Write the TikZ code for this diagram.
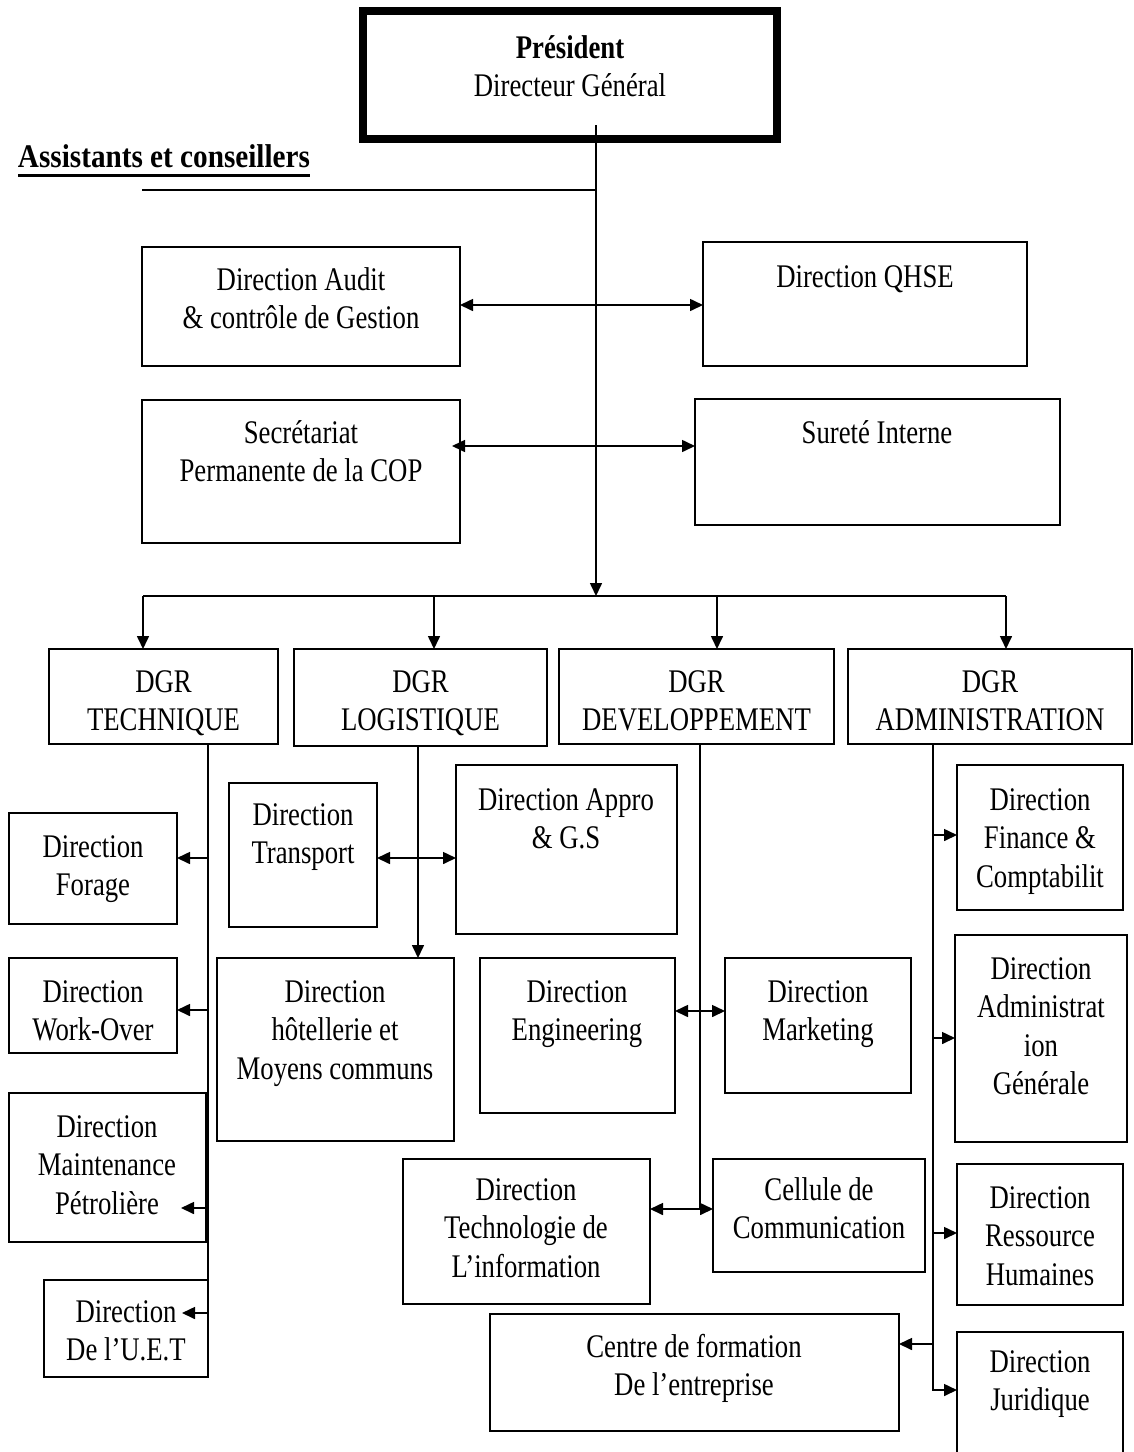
\documentclass[tikz,border=0pt]{standalone}
\usepackage{fontspec}
\setmainfont{Liberation Serif}[FakeStretch=0.81]
\newfontfamily\assistfont{Liberation Serif}[FakeStretch=0.885]
\usetikzlibrary{arrows.meta}
\tikzset{
  orgbx/.style={draw, line width=1pt, inner sep=0pt, outer sep=0pt, rectangle},
  orgtx/.style={anchor=base, inner sep=0pt, outer sep=0pt, font=\fontsize{16.5}{19.25}\selectfont},
  conn/.style={line width=0.8pt},
  tipr/.style={conn, -{Triangle[length=6.5pt,width=6pt]}},
  tipb/.style={conn, {Triangle[length=6.5pt,width=6pt]}-{Triangle[length=6.5pt,width=6pt]}},
}
\newcommand\orgbox[5]{\node[orgbx, minimum width={(#4-#2)*0.5pt}, minimum height={(#5-#3)*0.5pt}] (#1) at ({(#2+#4)/2},{(#3+#5)/2}) {};}
\newcommand\orgtext[4]{\node[orgtx] (#1) at (#2,#3) {\begin{tabular}[t]{@{}c@{}}#4\end{tabular}};}
\begin{document}
\begin{tikzpicture}[x=0.5pt,y=-0.5pt]
\fill[white] (0,0) rectangle (1134,1452);
\useasboundingbox (0,0) rectangle (1134,1452);

% President
\node[draw, line width=4pt, inner sep=0pt, minimum width={414*0.5pt}, minimum height={128*0.5pt}] (pres) at (570,75) {};
\orgtext{pres-t}{570}{58}{\bfseries Président\\Directeur Général}

% Assistants
\node[orgtx, anchor=base west] (assist) at (18,167) {\assistfont\bfseries Assistants et conseillers};
\draw[line width=1.5pt] ([yshift=-4pt]assist.base west) -- ([yshift=-4pt]assist.base east);

% boxes
\orgbox{audit}{142}{247}{460}{366}
\orgbox{qhse}{703}{242}{1027}{366}
\orgbox{secr}{142}{400}{460}{543}
\orgbox{surete}{695}{399}{1060}{525}
\orgbox{tech}{49}{649}{278}{744}
\orgbox{logi}{294}{649}{547}{746}
\orgbox{devel}{559}{649}{834}{744}
\orgbox{admin}{848}{649}{1132}{744}
\orgbox{forage}{9}{813}{177}{924}
\orgbox{wover}{9}{958}{177}{1053}
\orgbox{maint}{9}{1093}{206}{1242}
\orgbox{uet}{44}{1280}{208}{1377}
\orgbox{transp}{229}{783}{377}{927}
\orgbox{appro}{456}{765}{677}{934}
\orgbox{hotel}{217}{958}{454}{1141}
\orgbox{engin}{480}{958}{675}{1113}
\orgbox{market}{725}{958}{911}{1093}
\orgbox{techinfo}{403}{1159}{650}{1304}
\orgbox{cellule}{713}{1159}{925}{1272}
\orgbox{centre}{490}{1314}{899}{1431}
\orgbox{finance}{957}{765}{1123}{910}
\orgbox{admgen}{955}{935}{1127}{1142}
\orgbox{rh}{957}{1164}{1123}{1305}
\orgbox{jurid}{957}{1332}{1123}{1480}

% texts
\orgtext{audit-t}{301}{290}{Direction Audit\\\& contrôle de Gestion}
\orgtext{qhse-t}{865}{287}{Direction QHSE}
\orgtext{secr-t}{301}{443}{Secrétariat\\Permanente de la COP}
\orgtext{surete-t}{877}{443}{Sureté Interne}
\orgtext{tech-t}{163.5}{692}{DGR\\TECHNIQUE}
\orgtext{logi-t}{420.5}{692}{DGR\\LOGISTIQUE}
\orgtext{devel-t}{696.5}{692}{DGR\\DEVELOPPEMENT}
\orgtext{admin-t}{990}{692}{DGR\\ADMINISTRATION}
\orgtext{forage-t}{93}{857}{Direction\\Forage}
\orgtext{wover-t}{93}{1002}{Direction\\Work-Over}
\orgtext{maint-t}{107}{1137}{Direction\\Maintenance\\Pétrolière}
\orgtext{uet-t}{126}{1322}{Direction\\De l’U.E.T}
\orgtext{transp-t}{303}{825}{Direction\\Transport}
\orgtext{appro-t}{566}{810}{Direction Appro\\\& G.S}
\orgtext{hotel-t}{335}{1002}{Direction\\hôtellerie et\\Moyens communs}
\orgtext{engin-t}{577}{1002}{Direction\\Engineering}
\orgtext{market-t}{818}{1002}{Direction\\Marketing}
\orgtext{techinfo-t}{526}{1200}{Direction\\Technologie de\\L’information}
\orgtext{cellule-t}{819}{1200}{Cellule de\\Communication}
\orgtext{centre-t}{694}{1357}{Centre de formation\\De l’entreprise}
\orgtext{finance-t}{1040}{810}{Direction\\Finance \&\\Comptabilit}
\orgtext{admgen-t}{1041}{979}{Direction\\Administrat\\ion\\Générale}
\orgtext{rh-t}{1040}{1208}{Direction\\Ressource\\Humaines}
\orgtext{jurid-t}{1040}{1372}{Direction\\Juridique}

% top connectors
\coordinate (top) at (596,125);
\coordinate (busc) at (596,596);
\coordinate (busl) at (143,596);
\coordinate (busr) at (1006,596);
\coordinate (asl) at (142,190);
\draw[conn] (asl) -- (asl -| top);
\draw[tipr] (top) -- (busc);
\draw[conn] (busl) -- (busr);
\draw[tipb] (audit.east |- 0,305) -- (qhse.west |- 0,305);
\coordinate (stip) at (452,446);
\draw[tipb] (stip) -- (surete.west |- stip);
\draw[tipr] (busl) -- (tech.north -| busl);
\draw[tipr] (busl -| 434,0) -- (logi.north -| 434,0);
\draw[tipr] (busl -| 717,0) -- (devel.north -| 717,0);
\draw[tipr] (busr) -- (admin.north -| busr);

% technique
\coordinate (tsp) at (208,0);
\draw[conn] (tech.south -| tsp) -- (uet.north east);
\draw[tipr] (tsp |- 0,858) -- (forage.east |- 0,858);
\draw[tipr] (tsp |- 0,1010) -- (wover.east |- 0,1010);
\coordinate (mtip) at (181,1208);
\draw[tipr] (tsp |- mtip) -- (mtip);
\coordinate (utip) at (182,1313);
\draw[tipr] (tsp |- utip) -- (utip);

% logistique
\draw[tipr] (logi.south -| 418,0) -- (hotel.north -| 418,0);
\draw[tipb] (transp.east |- 0,858) -- (appro.west |- 0,858);

% developpement
\coordinate (dend) at (700,1209);
\draw[conn] (devel.south -| dend) -- (dend);
\draw[tipb] (engin.east |- 0,1011) -- (market.west |- 0,1011);
\draw[tipb] (techinfo.east |- dend) -- (cellule.west |- dend);

% administration
\coordinate (asp) at (933,1390);
\draw[tipr] (admin.south -| asp) -- (asp) -- (jurid.west |- asp);
\draw[tipr] (asp |- 0,835) -- (finance.west |- 0,835);
\draw[tipr] (asp |- 0,1038) -- (admgen.west |- 0,1038);
\draw[tipr] (asp |- 0,1233) -- (rh.west |- 0,1233);
\draw[tipr] (asp |- 0,1344) -- (centre.east |- 0,1344);
\end{tikzpicture}
\end{document}
